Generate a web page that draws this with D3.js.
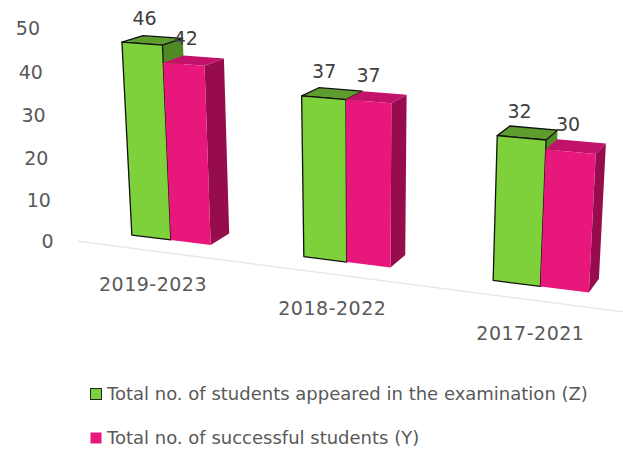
<!DOCTYPE html>
<html>
<head>
<meta charset="utf-8">
<script src="https://cdn.jsdelivr.net/npm/d3@7"></script>
<style>
  body { margin: 0; background: #fff; }
  text { font-family: "DejaVu Sans", sans-serif; fill: #595959; }
</style>
</head>
<body>
<div id="chart"></div>
<script>
// data
const categories = ["2019-2023", "2018-2022", "2017-2021"];
const seriesNames = ["Total no. of students appeared in the examination (Z)", "Total no. of successful students (Y)"];
const appeared = [46, 37, 32];
const successful = [42, 37, 30];
const yTicks = [0, 10, 20, 30, 40, 50];

const width = 623, height = 451;

const svg = d3.select("#chart")
  .append("svg")
  .attr("width", width)
  .attr("height", height);

// world scales (x along floor, y up, z into the page)
const floorW = 582;
const x = d3.scaleBand()
  .domain(categories)
  .range([0, floorW])
  .paddingInner(0.53)
  .paddingOuter(0.21);

const xSub = d3.scaleBand()
  .domain([0, 1])
  .range([0, x.bandwidth()]);

const y = d3.scaleLinear()
  .domain([0, 50])
  .range([0, 226]);

const barZ0 = 40, barZ1 = 83;

const yaw = 21.5 * Math.PI / 180,
      pitch = 17.5 * Math.PI / 180,
      focal = 1436, dist = 1436,
      center = [312, 29, 40],
      cx = 366, cy = 237;

function project(px, py, pz) {
  let dx = px - center[0], dy = py - center[1], dz = pz - center[2];
  let x1 = dx * Math.cos(yaw) + dz * Math.sin(yaw);
  let z1 = -dx * Math.sin(yaw) + dz * Math.cos(yaw);
  let y2 = dy * Math.cos(pitch) + z1 * Math.sin(pitch);
  let z2 = -dy * Math.sin(pitch) + z1 * Math.cos(pitch) + dist;
  return [cx + focal * x1 / z2, cy - focal * y2 / z2];
}

function poly(pts) {
  return "M" + pts.map(p => project(p[0], p[1], p[2]).join(",")).join("L") + "Z";
}

// floor front edge
svg.append("path")
  .attr("d", poly([[0, 0, 0], [floorW, 0, 0]]).replace("Z", ""))
  .attr("stroke", "#e8e8e8")
  .attr("stroke-width", 1.5)
  .attr("fill", "none");

// y tick labels
svg.selectAll(".ytick")
  .data(yTicks)
  .join("text")
  .attr("class", "ytick")
  .attr("x", d => project(0, y(d), 0)[0] - 24)
  .attr("y", d => project(0, y(d), 0)[1])
  .attr("dy", "0.35em")
  .attr("text-anchor", "end")
  .style("font-size", "19px")
  .text(d => d);

// category labels
svg.selectAll(".xlabel")
  .data(categories)
  .join("text")
  .attr("class", "xlabel")
  .attr("x", d => project(x(d) + x.bandwidth() / 2, 0, 0)[0] + 1)
  .attr("y", d => project(x(d) + x.bandwidth() / 2, 0, 0)[1] + 34)
  .attr("dy", "0.35em")
  .attr("text-anchor", "middle")
  .style("font-size", "19px")
  .style("letter-spacing", "0.5px")
  .text(d => d);

// bars
const colors = [
  {front: "#7ed13b", top: "#5e9c2d", side: "#4f8a24", stroke: "#111"},
  {front: "#e8177b", top: "#c3126a", side: "#960c4c", stroke: "none"}
];

let bars = [];
categories.forEach((c, i) => {
  [appeared[i], successful[i]].forEach((v, s) => {
    bars.push({cat: c, s: s, v: v});
  });
});

const barG = svg.append("g");
bars.forEach(b => {
  let x0 = x(b.cat) + xSub(b.s), x1 = x0 + xSub.bandwidth(), h = y(b.v);
  let col = colors[b.s];
  let g = barG.append("g");
  g.append("path")
    .attr("d", poly([[x1, 0, barZ0], [x1, 0, barZ1], [x1, h, barZ1], [x1, h, barZ0]]))
    .attr("fill", col.side);
  g.append("path")
    .attr("d", poly([[x0, h, barZ0], [x1, h, barZ0], [x1, h, barZ1], [x0, h, barZ1]]))
    .attr("fill", col.top)
    .attr("stroke", col.stroke)
    .attr("stroke-width", 1.3)
    .attr("stroke-linejoin", "round");
  g.append("path")
    .attr("d", poly([[x0, 0, barZ0], [x1, 0, barZ0], [x1, h, barZ0], [x0, h, barZ0]]))
    .attr("fill", col.front)
    .attr("stroke", col.stroke)
    .attr("stroke-width", 1.3)
    .attr("stroke-linejoin", "round");
});

// data labels
svg.selectAll(".dlabel")
  .data(bars)
  .join("text")
  .attr("class", "dlabel")
  .attr("x", d => project(x(d.cat) + xSub(d.s) + xSub.bandwidth() / 2, y(d.v), (barZ0 + barZ1) / 2)[0] - 8)
  .attr("y", d => project(x(d.cat) + xSub(d.s) + xSub.bandwidth() / 2, y(d.v), (barZ0 + barZ1) / 2)[1] - 22)
  .attr("dy", "0.35em")
  .attr("text-anchor", "middle")
  .style("font-size", "19px")
  .style("fill", "#404040")
  .text(d => d.v);

// legend
const legend = svg.selectAll(".legend")
  .data(seriesNames)
  .join("g")
  .attr("class", "legend")
  .attr("transform", (d, i) => `translate(90, ${394 + i * 44})`);

legend.append("rect")
  .attr("x", 0.5)
  .attr("y", -5.5)
  .attr("width", 11)
  .attr("height", 11)
  .attr("fill", (d, i) => colors[i].front)
  .attr("stroke", (d, i) => i === 0 ? "#222" : "none")
  .attr("stroke-width", 1);

legend.append("text")
  .attr("x", 17)
  .attr("y", 0)
  .attr("dy", "0.35em")
  .style("font-size", "18px")
  .text(d => d);
</script>
</body>
</html>
